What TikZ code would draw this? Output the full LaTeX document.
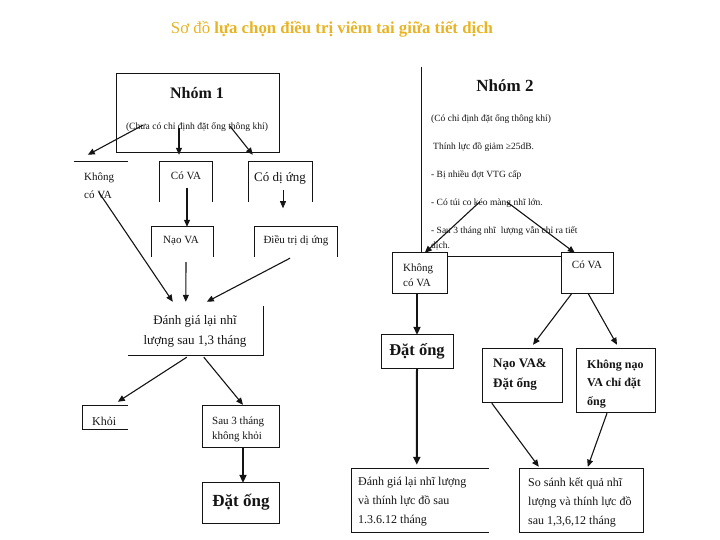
\documentclass[tikz,border=0pt]{standalone}
\usepackage{fontspec}
\setmainfont{Liberation Serif}
\usetikzlibrary{
    arrows.meta,
    calc,
    fit
}
\definecolor{titleC}{RGB}{232,180,36}
\definecolor{lineC}{RGB}{20,20,20}
\tikzset{
  frame/.style = {inner sep=0pt, draw=none},
  edge/.style  = {draw=lineC, line width=0.9pt},
  arr/.style   = {-{Triangle[length=7pt,width=6pt]}, draw=lineC, line width=1.1pt},
  arrb/.style  = {-{Triangle[length=8pt,width=7pt]}, draw=lineC, line width=2.0pt},
  arrt/.style  = {-{Triangle[length=7pt,width=6pt]}, draw=lineC, line width=0.6pt},
  txt/.style   = {inner sep=0pt, text=lineC, align=left},
  ctxt/.style  = {inner sep=0pt, text=lineC, align=center}
}
\newcommand{\fs}[2]{\fontsize{#1}{#2}\selectfont}

\begin{document}
\begin{tikzpicture}[x=1pt, y=-1pt]
  \useasboundingbox (0,0) rectangle (720,540);

  %% ── Title ─────────────────────────────────────────────────────
  \node[inner sep=0pt, text=titleC, font=\fs{16.8}{19}] (title) at (332,29)
    {Sơ đồ \textbf{lựa chọn điều trị viêm tai giữa tiết dịch}};

  %% ── Frames, group 1 ───────────────────────────────────────────
  \node[frame, fit={(117,74) (279,152)}]  (b1)    {};
  \node[frame, fit={(74,162) (128,205)}]  (bkva1) {};
  \node[frame, fit={(160,162) (212,202)}] (bcva1) {};
  \node[frame, fit={(249,162) (312,202)}] (bdu)   {};
  \node[frame, fit={(152,227) (213,257)}] (bnao1) {};
  \node[frame, fit={(255,227) (337,257)}] (bdtdu) {};
  \node[frame, fit={(128,306) (263,355)}] (bdg1)  {};
  \node[frame, fit={(83,406) (128,429)}]  (bkhoi) {};
  \node[frame, fit={(203,406) (279,447)}] (bsau3) {};
  \node[frame, fit={(203,483) (279,523)}] (bdo1)  {};

  %% ── Frames, group 2 ───────────────────────────────────────────
  \node[frame, fit={(422,67) (600,253)}]  (b2)    {};
  \node[frame, fit={(393,253) (447,293)}] (bkva2) {};
  \node[frame, fit={(562,253) (613,293)}] (bcva2) {};
  \node[frame, fit={(382,335) (453,368)}] (bdo2)  {};
  \node[frame, fit={(483,349) (562,402)}] (bnao2) {};
  \node[frame, fit={(577,349) (655,412)}] (bkn2)  {};
  \node[frame, fit={(352,469) (489,532)}] (bdg2)  {};
  \node[frame, fit={(520,469) (643,532)}] (bss)   {};

  %% ── Frame edges (some are open) ───────────────────────────────
  \draw[edge] (b1.north west) rectangle (b1.south east);
  \draw[edge] (bkva1.north west) -- (bkva1.north east);
  \draw[edge] (bcva1.south west) |- (bcva1.north east) -- (bcva1.south east);
  \draw[edge] (bdu.south west) |- (bdu.north east) -- (bdu.south east);
  \draw[edge] (bnao1.south west) |- (bnao1.north east) -- (bnao1.south east);
  \draw[edge] (bdtdu.south west) |- (bdtdu.north east) -- (bdtdu.south east);
  \draw[edge] (bdg1.north east) |- (bdg1.south west);
  \draw[edge] (bkhoi.north east) -| (bkhoi.south west) -- (bkhoi.south east);
  \draw[edge] (bsau3.north west) rectangle (bsau3.south east);
  \draw[edge] (bdo1.north west) rectangle (bdo1.south east);

  \draw[edge] (b2.north west) -- (b2.south west);
  \draw[edge] (bkva2.north west) rectangle (bkva2.south east);
  \draw[edge] (bcva2.north west) rectangle (bcva2.south east);
  \draw[edge] (bdo2.north west) rectangle (bdo2.south east);
  \draw[edge] (bnao2.north west) rectangle (bnao2.south east);
  \draw[edge] (bkn2.north west) rectangle (bkn2.south east);
  \draw[edge] (bdg2.north east) -| (bdg2.south west) -- (bdg2.south east);
  \draw[edge] (bss.north west) rectangle (bss.south east);

  %% ── Texts, group 1 ────────────────────────────────────────────
  \node[ctxt, font=\fs{16}{18}\bfseries] (t1)   at (197,93)  {Nhóm 1};
  \node[ctxt, font=\fs{9.6}{11}]         (t1s)  at (197,127) {(Chưa có chỉ định đặt ống thông khí)};
  \node[txt, anchor=west, font=\fs{11}{18}]  (tkva1) at (84,186)  {Không\\có VA};
  \node[ctxt, font=\fs{11}{13}]          (tcva1) at (186,176) {Có VA};
  \node[ctxt, font=\fs{13}{15}]          (tdu)   at (280,178) {Có dị ứng};
  \node[ctxt, font=\fs{11}{13}]          (tnao1) at (181,241) {Nạo VA};
  \node[ctxt, font=\fs{11}{13}]          (tdtdu) at (296,241) {Điều trị dị ứng};
  \node[ctxt, font=\fs{13}{20}]          (tdg1)  at (195,331) {Đánh giá lại nhĩ\\lượng sau 1,3 tháng};
  \node[txt, anchor=west, font=\fs{12}{14}]  (tkhoi) at (92,421)  {Khỏi};
  \node[txt, anchor=west, font=\fs{11}{15}]  (tsau3) at (212,429) {Sau 3 tháng\\không khỏi};
  \node[ctxt, font=\fs{17}{19}\bfseries] (tdo1)  at (241,502) {Đặt ống};

  %% ── Texts, group 2 ────────────────────────────────────────────
  \node[ctxt, font=\fs{17}{19}\bfseries] (t2) at (505,86) {Nhóm 2};
  \node[txt, anchor=west, font=\fs{9.5}{15}] (t2s) at (431,182) {%
    (Có chỉ định đặt ống thông khí)\\[13pt]
    \hspace{2pt}Thính lực đồ giảm ≥25dB.\\[13pt]
    - Bị nhiều đợt VTG cấp\\[13pt]
    - Có túi co kéo màng nhĩ lớn.\\[13pt]
    - Sau 3 tháng nhĩ\ \ lượng vẫn chỉ ra tiết\\
    dịch.};
  \node[txt, anchor=west, font=\fs{11}{15}]  (tkva2) at (403,275) {Không\\có VA};
  \node[ctxt, font=\fs{11}{13}]          (tcva2) at (587,265) {Có VA};
  \node[ctxt, font=\fs{16.5}{19}\bfseries] (tdo2) at (417,351) {Đặt ống};
  \node[txt, anchor=west, font=\fs{13}{20}\bfseries]   (tnao2) at (493,375) {Nạo VA\&\\Đặt ống};
  \node[txt, anchor=west, font=\fs{12}{18.5}\bfseries] (tkn2)  at (587,384) {Không nạo\\VA chỉ đặt\\ống};
  \node[txt, anchor=west, font=\fs{12}{19}]  (tdg2) at (358,502) {Đánh giá lại nhĩ lượng\\và thính lực đồ sau\\1.3.6.12 tháng};
  \node[txt, anchor=west, font=\fs{12}{19}]  (tss)  at (528,502) {So sánh kết quả nhĩ\\lượng và thính lực đồ\\sau 1,3,6,12 tháng};

  %% ── Arrows, group 1 ───────────────────────────────────────────
  \draw[arr]  ($(b1.south west)+(26,-27)$) -- ($(bkva1.north west)+(14,-7)$);
  \draw[arr]  ($(b1.south)+(-19,-24)$)     -- ($(bcva1.north)+(-7,-7)$);
  \draw[arr]  ($(b1.south)+(32,-26)$)      -- ($(bdu.north west)+(4,-7)$);
  \draw[arr]  ($(bcva1.center)+(1,6)$)     -- ($(bnao1.north)+(4.5,0)$);
  \draw[arrt] ($(bdu.center)+(2.5,8)$)     -- ($(bdu.south)+(2.5,6)$);
  \draw[arr]  ($(bkva1.south west)+(25,-13)$) -- ($(bdg1.north west)+(45,-4)$);
  \draw[arr]  ($(bnao1.south)+(3.5,5)$)    -- ($(bdg1.north west)+(58,-4)$);
  \draw[arr]  ($(bdtdu.south)+(-6,1)$)     -- ($(bdg1.north west)+(79,-4)$);
  \draw[arr]  ($(bdg1.south west)+(59,2)$) -- ($(bkhoi.north west)+(35,-4)$);
  \draw[arr]  ($(bdg1.south west)+(76,2)$) -- ($(bsau3.north)+(2,-1)$);
  \draw[arrb] ($(bsau3.south)+(2,0)$)      -- ($(bdo1.north)+(2,0)$);

  %% ── Arrows, group 2 ───────────────────────────────────────────
  \draw[arr]  ($(b2.north west)+(58,135)$) -- ($(bkva2.north west)+(32,0)$);
  \draw[arr]  ($(b2.north west)+(85,135)$) -- ($(bcva2.north west)+(13,0)$);
  \draw[edge] ($(bkva2.north east)+(0,4)$) -- ($(bcva2.north west)+(0,4)$);
  \draw[arrb] ($(bkva2.south)+(-3,0)$)     -- ($(bdo2.north)+(-0.5,0)$);
  \draw[arrb] ($(bdo2.south)+(-0.5,0)$)    -- ($(bdg2.north west)+(65,-4)$);
  \draw[arr]  ($(bcva2.south)+(-15.5,0)$)  -- ($(bnao2.north)+(10.5,-4)$);
  \draw[arr]  ($(bcva2.south)+(0.5,0)$)    -- ($(bkn2.north)+(1,-4)$);
  \draw[arr]  ($(bnao2.south west)+(9,1)$) -- ($(bss.north west)+(19,-2)$);
  \draw[arr]  ($(bkn2.south)+(-9,1)$)      -- ($(bss.north west)+(68,-2)$);

\end{tikzpicture}
\end{document}
